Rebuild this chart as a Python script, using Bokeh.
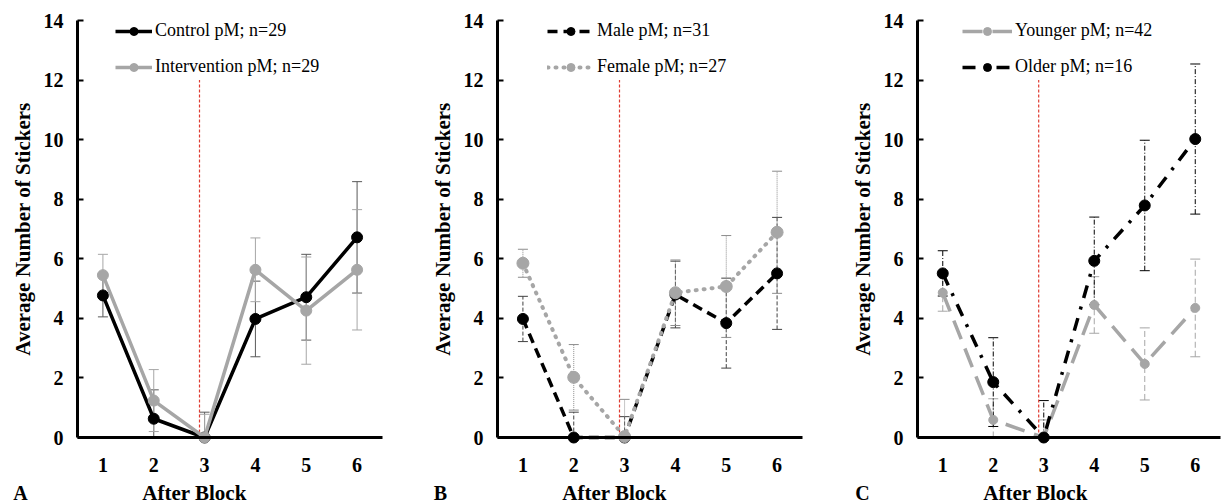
from bokeh.plotting import figure
from bokeh.layouts import row
from bokeh.models import ColumnDataSource, Whisker, TeeHead, FixedTicker, Label, Range1d
from bokeh.embed import file_html
from bokeh.resources import INLINE

blocks = [1, 2, 3, 4, 5, 6]
tick_values = [0, 2, 4, 6, 8, 10, 12, 14]

control = [4.77, 0.63, 0.0, 3.98, 4.71, 6.72]
control_err = [0.72, 0.97, 0.85, 1.27, 1.44, 1.87]
intervention = [5.45, 1.24, 0.0, 5.63, 4.26, 5.63]
intervention_err = [0.70, 1.04, 0.78, 1.07, 1.80, 2.02]

male = [3.98, 0.0, 0.0, 4.80, 3.84, 5.51]
male_err = [0.76, 0.85, 0.70, 1.12, 1.51, 1.88]
female = [5.85, 2.02, 0.03, 4.86, 5.07, 6.89]
female_err = [0.47, 1.10, 1.25, 1.10, 1.71, 2.05]

younger = [4.86, 0.59, 0.0, 4.45, 2.47, 4.35]
younger_err = [0.62, 0.71, 0.59, 0.95, 1.21, 1.64]
older = [5.51, 1.86, 0.0, 5.93, 7.79, 10.02]
older_err = [0.76, 1.49, 1.24, 1.47, 2.19, 2.52]

divider_x = [2.9]
divider_y0 = [0]
divider_y1 = [12]

SERIF = "Liberation Serif"
BLACK = "#000000"
GRAY = "#a6a6a6"
RED = "#e03a30"

FIG_H = 504
TOP_PX = 20      # pixel row of y = 14
ZERO_PX = 437    # pixel row of y = 0
X_LO, X_HI = 0.5, 6.5
Y_LO, Y_HI = 0, 14


def make_panel(letter, fig_w, axis_px, end_px, series, legend_x, glyph_w,
               letter_px, title_px):
    ppx = (end_px - axis_px) / (X_HI - X_LO)
    ppy = (ZERO_PX - TOP_PX) / (Y_HI - Y_LO)
    xr = Range1d(X_LO - axis_px / ppx, X_HI + (fig_w - end_px) / ppx)
    yr = Range1d(Y_LO - (FIG_H - ZERO_PX) / ppy, Y_HI + TOP_PX / ppy)
    p = figure(width=fig_w, height=FIG_H, output_backend="svg", toolbar_location=None,
               x_range=xr, y_range=yr,
               min_border_left=0, min_border_right=0,
               min_border_top=0, min_border_bottom=0)
    p.outline_line_color = None
    p.xgrid.visible = False
    p.ygrid.visible = False
    p.background_fill_color = "white"
    p.border_fill_color = "white"

    # axes
    p.xaxis.fixed_location = 0
    p.xaxis.bounds = (X_LO, X_HI)
    p.xaxis.ticker = FixedTicker(ticks=blocks)
    p.xaxis.axis_line_width = 3
    p.xaxis.axis_line_color = BLACK
    p.xaxis.major_tick_line_color = None
    p.xaxis.minor_tick_line_color = None
    p.xaxis.major_label_standoff = 14
    p.xaxis.major_label_text_font = SERIF
    p.xaxis.major_label_text_font_style = "bold"
    p.xaxis.major_label_text_font_size = "20px"
    p.xaxis.major_label_text_color = BLACK

    p.yaxis.fixed_location = X_LO
    p.yaxis.bounds = (Y_LO, Y_HI)
    p.yaxis.ticker = FixedTicker(ticks=tick_values)
    p.yaxis.axis_line_width = 3
    p.yaxis.axis_line_color = BLACK
    p.yaxis.major_tick_in = 6
    p.yaxis.major_tick_out = 0
    p.yaxis.major_tick_line_width = 2
    p.yaxis.minor_tick_line_color = None
    p.yaxis.major_label_standoff = 14
    p.yaxis.major_label_text_font = SERIF
    p.yaxis.major_label_text_font_style = "bold"
    p.yaxis.major_label_text_font_size = "20px"
    p.yaxis.major_label_text_color = BLACK
    p.yaxis.axis_label = "Average Number of Stickers"
    p.yaxis.axis_label_text_font = SERIF
    p.yaxis.axis_label_text_font_style = "bold"
    p.yaxis.axis_label_text_font_size = "21px"
    p.yaxis.axis_label_text_color = BLACK
    p.yaxis.axis_label_standoff = 6

    # divider
    p.segment(x0=divider_x, y0=divider_y0, x1=divider_x, y1=divider_y1,
              line_color=RED, line_width=1.2, line_dash="3 2")

    # error bars (the part below the axis is hidden, as in the original)
    for s in series:
        lo = [max(Y_LO, v - e) for v, e in zip(s["y"], s["err"])]
        hi = [v + e for v, e in zip(s["y"], s["err"])]
        src = ColumnDataSource(dict(x=blocks, lower=lo, upper=hi))
        w = Whisker(base="x", lower="lower", upper="upper", source=src,
                    line_color=s["ecolor"], line_width=1, line_dash=s["edash"],
                    upper_head=TeeHead(size=10, line_color=s["ecolor"], line_width=1),
                    lower_head=TeeHead(size=10, line_color=s["ecolor"], line_width=1))
        p.add_layout(w)

    # lines and markers
    for s in series:
        src = ColumnDataSource(dict(x=blocks, y=s["y"]))
        p.line("x", "y", source=src, line_color=s["color"], line_width=s["lw"],
               line_dash=s["dash"], line_cap=s.get("cap", "butt"),
               legend_label=s["label"])
        p.scatter("x", "y", source=src, marker="circle", size=s["ms"],
                  fill_color=s["color"], line_color=s["color"],
                  legend_label=s["label"])

    lg = p.legend[0]
    lg.location = (legend_x, FIG_H - 22 - 55)
    lg.border_line_color = None
    lg.background_fill_alpha = 0
    lg.padding = 0
    lg.margin = 0
    lg.spacing = 15
    lg.glyph_width = glyph_w
    lg.glyph_height = 20
    lg.label_height = 20
    lg.label_standoff = 3
    lg.label_text_font = SERIF
    lg.label_text_font_size = "18px"
    lg.label_text_color = BLACK

    label_y = -(492 - ZERO_PX) / ppy
    p.add_layout(Label(x=X_LO + (title_px - axis_px) / ppx, y=label_y, text="After Block",
                       text_align="center", text_baseline="middle", text_font=SERIF,
                       text_font_style="bold", text_font_size="21px", text_color=BLACK))
    p.add_layout(Label(x=X_LO + (letter_px - axis_px) / ppx, y=label_y, text=letter,
                       text_align="center", text_baseline="middle", text_font=SERIF,
                       text_font_style="bold", text_font_size="20px", text_color=BLACK))
    return p


pa = make_panel("A", 410, 77, 382, [
    dict(y=control, err=control_err, color=BLACK, ecolor="#595959", edash="solid",
         dash="solid", lw=3.5, ms=11, label="Control pM; n=29"),
    dict(y=intervention, err=intervention_err, color=GRAY, ecolor=GRAY, edash="solid",
         dash="solid", lw=3.5, ms=11, label="Intervention pM; n=29"),
], 115, 37, 20, 194)

pb = make_panel("B", 410, 87, 392, [
    dict(y=male, err=male_err, color=BLACK, ecolor="#404040", edash="4 2",
         dash="10 6", lw=3.5, ms=11, label="Male pM; n=31"),
    dict(y=female, err=female_err, color=GRAY, ecolor="#8c8c8c", edash="1 1",
         dash="1 7", lw=4, ms=12, cap="round", label="Female pM; n=27"),
], 137, 47, 30, 204)

pc = make_panel("C", 409, 97, 400, [
    dict(y=younger, err=younger_err, color=GRAY, ecolor=GRAY, edash="6 3",
         dash="20 10", lw=3.5, ms=9, label="Younger pM; n=42"),
    dict(y=older, err=older_err, color=BLACK, ecolor=BLACK, edash="5 2 1 2",
         dash="13 9 3 9", lw=3.5, ms=11, label="Older pM; n=16"),
], 142, 50, 42, 215)

layout = row(pa, pb, pc)
open("out.html", "w").write(file_html(layout, INLINE))
